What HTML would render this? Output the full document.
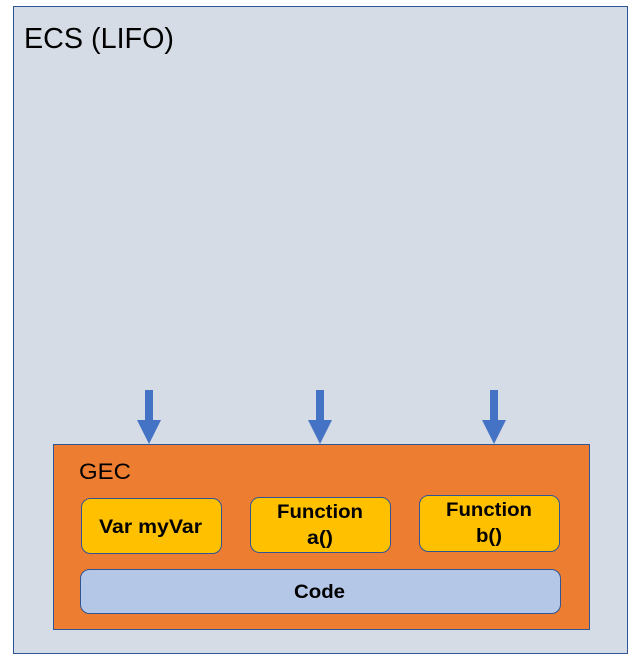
<!DOCTYPE html>
<html><head><meta charset="utf-8"><style>
html,body{margin:0;padding:0;background:#fff;}
svg{display:block;}
text{font-family:"Liberation Sans",sans-serif;}
</style></head><body>
<svg width="642" height="664" viewBox="0 0 642 664" xmlns="http://www.w3.org/2000/svg">
<rect x="13.5" y="6.5" width="614" height="647" fill="#d6dce5" stroke="#2f5597" stroke-width="1"/>
<text x="24" y="48" font-size="29" fill="#000" textLength="150" lengthAdjust="spacingAndGlyphs">ECS (LIFO)</text>
<g fill="#4472c4">
<rect x="145" y="390" width="8" height="30"/><polygon points="137,420 161,420 149,444"/>
<rect x="316" y="390" width="8" height="30"/><polygon points="308,420 332,420 320,444"/>
<rect x="490" y="390" width="8" height="30"/><polygon points="482,420 506,420 494,444"/>
</g>
<rect x="53.5" y="444.5" width="536" height="185" fill="#ed7d31" stroke="#2f5597" stroke-width="1"/>
<text x="79" y="479" font-size="22" fill="#000" textLength="52" lengthAdjust="spacingAndGlyphs">GEC</text>
<g stroke="#2f5597" stroke-width="1" fill="#ffc000">
<rect x="81.5" y="498.5" width="140" height="55" rx="9"/>
<rect x="250.5" y="497.5" width="140" height="55" rx="9"/>
<rect x="419.5" y="495.5" width="140" height="56" rx="9"/>
<rect x="80.5" y="569.5" width="480" height="44" rx="9" fill="#b4c7e7"/>
</g>
<g font-size="19" font-weight="bold" fill="#000">
<text x="99" y="533" textLength="103" lengthAdjust="spacingAndGlyphs">Var myVar</text>
<text x="277" y="518" textLength="86" lengthAdjust="spacingAndGlyphs">Function</text>
<text x="307" y="544" textLength="26" lengthAdjust="spacingAndGlyphs">a()</text>
<text x="446" y="516" textLength="86" lengthAdjust="spacingAndGlyphs">Function</text>
<text x="476" y="542" textLength="26" lengthAdjust="spacingAndGlyphs">b()</text>
<text x="294" y="598" textLength="51" lengthAdjust="spacingAndGlyphs">Code</text>
</g>
</svg>
</body></html>
